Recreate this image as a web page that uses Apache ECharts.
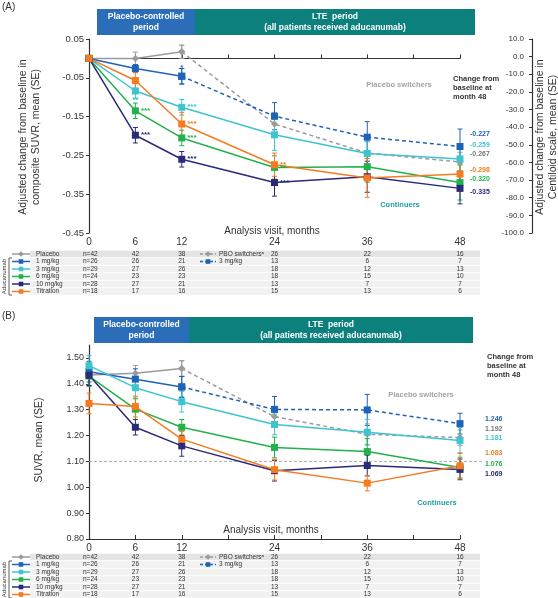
<!DOCTYPE html>
<html><head><meta charset="utf-8">
<script src="https://cdn.jsdelivr.net/npm/echarts@6/dist/echarts.min.js"></script>
<style>html,body{margin:0;padding:0;background:#fff}#c{width:558px;height:598px}</style>
</head><body><div id="c"></div>
<script>
// ---------- data ----------
const months = [0, 6, 12, 24, 36, 48];
const monthsPC = [0, 6, 12];
const monthsLTE = [12, 24, 36, 48];
const yTicksA = [-0.45, -0.35, -0.25, -0.15, -0.05, 0.05];
const yTicksB = [0.8, 0.9, 1.0, 1.1, 1.2, 1.3, 1.4, 1.5];
const refLineB = 1.10;

// Panel A: adjusted change in composite SUVR
const aPlacebo = [0, 0, 0.017];
const aPlaceboSE = [0, 0.016, 0.017];
const aPBO = [0.017, -0.169, -0.244, -0.267];
const aPBOSE = [0.017, 0.03, 0.03, 0.025];
const a1mg = [0, -0.026, -0.046];
const a1mgSE = [0, 0.01, 0.02];
const a1to3mg = [-0.046, -0.149, -0.203, -0.227];
const a1to3mgSE = [0.02, 0.035, 0.04, 0.045];
const a3mg = [0, -0.084, -0.126, -0.197, -0.245, -0.259];
const a3mgSE = [0, 0.02, 0.02, 0.04, 0.03, 0.03];
const a6mg = [0, -0.135, -0.205, -0.281, -0.279, -0.320];
const a6mgSE = [0, 0.02, 0.02, 0.03, 0.04, 0.045];
const a10mg = [0, -0.198, -0.260, -0.320, -0.305, -0.335];
const a10mgSE = [0, 0.02, 0.02, 0.035, 0.04, 0.04];
const aTitr = [0, -0.057, -0.169, -0.274, -0.308, -0.298];
const aTitrSE = [0, 0.02, 0.03, 0.03, 0.05, 0.04];
const starsA1mg = ['', '', '*'];
const starsA3mg = ['', '**', '***', '', '', ''];
const starsA6mg = ['', '***', '***', '**', '', ''];
const starsA10mg = ['', '***', '***', '***', '', ''];
const starsATitr = ['', '', '***', '**', '', ''];
const endLabelsA = ['-0.227', '-0.259', '-0.267', '-0.298', '-0.320', '-0.335'];

// Panel B: SUVR
const bPlacebo = [1.434, 1.441, 1.459];
const bPlaceboSE = [0.04, 0.03, 0.03];
const bPBO = [1.459, 1.273, 1.205, 1.192];
const bPBOSE = [0.03, 0.04, 0.04, 0.03];
const b1mg = [1.447, 1.418, 1.388];
const b1mgSE = [0.04, 0.04, 0.04];
const b1to3mg = [1.388, 1.301, 1.299, 1.246];
const b1to3mgSE = [0.04, 0.05, 0.06, 0.04];
const b3mg = [1.470, 1.385, 1.331, 1.243, 1.213, 1.181];
const b3mgSE = [0.04, 0.04, 0.04, 0.04, 0.05, 0.05];
const b6mg = [1.430, 1.302, 1.232, 1.154, 1.138, 1.076];
const b6mgSE = [0.04, 0.04, 0.03, 0.04, 0.05, 0.04];
const b10mg = [1.433, 1.232, 1.160, 1.064, 1.084, 1.069];
const b10mgSE = [0.04, 0.03, 0.04, 0.04, 0.04, 0.04];
const bTitr = [1.324, 1.312, 1.186, 1.068, 1.016, 1.083];
const bTitrSE = [0.04, 0.04, 0.03, 0.04, 0.03, 0.05];
const endLabelsB = ['1.246', '1.192', '1.181', '1.083', '1.076', '1.069'];

// table
const tableLabels = ['Placebo', '1 mg/kg', '3 mg/kg', '6 mg/kg', '10 mg/kg', 'Titration'];
const tableN = ['n=42', 'n=26', 'n=29', 'n=24', 'n=28', 'n=18'];
const tableMonths = [6, 12, 24, 36, 48];
const tableCounts = [
  [42, 38, 26, 22, 16],
  [26, 21, 13, 6, 7],
  [27, 26, 18, 12, 13],
  [23, 23, 18, 15, 10],
  [27, 21, 13, 7, 7],
  [17, 16, 15, 13, 6]
];

// ---------- style ----------
const FONT = '"Liberation Sans", Arial, sans-serif';
const C = {gray:'#9b9b9b', blue:'#1f63b9', cyan:'#3ec4ce', green:'#22b14c', navy:'#2b2a78', orange:'#f47b20',
  hdrBlue:'#2b6db8', hdrTeal:'#0b807c', teal:'#1f9e9e', axis:'#333'};
const rowColors = [C.gray, C.blue, C.cyan, C.green, C.navy, C.orange];
const endColorsA = [C.blue, C.cyan, '#777', C.orange, C.green, C.navy];
const endColorsB = [C.blue, '#777', C.cyan, C.orange, C.green, C.navy];

function pts(xs, ys, stars, starPos) {
  return xs.map((x, i) => {
    const s = stars && stars[i];
    if (!s) return [x, ys[i]];
    const lab = {show: true, formatter: s};
    if (starPos && starPos[i]) { lab.position = starPos[i]; lab.distance = 1; }
    return {value: [x, ys[i]], label: lab};
  });
}
function line(xi, yi, xs, ys, color, o = {}) {
  return {
    type: 'line', xAxisIndex: xi, yAxisIndex: yi, z: 3,
    data: pts(xs, ys, o.stars, o.starPos),
    symbol: o.symbol || 'rect', symbolSize: o.size || 7, showSymbol: true,
    lineStyle: {color, width: 1.5, type: o.dashed ? [4, 3] : 'solid'},
    itemStyle: {color},
    label: {show: false, position: 'right', distance: 2, color, fontSize: 8, fontWeight: 'bold', fontFamily: FONT},
    animation: false
  };
}
function err(xi, yi, xs, ys, se, color) {
  return {
    type: 'custom', xAxisIndex: xi, yAxisIndex: yi, z: 2, silent: true, animation: false,
    encode: {x: 0, y: [1, 2]},
    data: xs.map((x, i) => [x, ys[i] - se[i], ys[i] + se[i]]),
    renderItem: (params, api) => {
      const x = api.value(0);
      const p1 = api.coord([x, api.value(1)]), p2 = api.coord([x, api.value(2)]);
      const w = 2.5, st = {stroke: color, lineWidth: 1};
      return {type: 'group', children: [
        {type: 'line', shape: {x1: p1[0], y1: p1[1], x2: p2[0], y2: p2[1]}, style: st},
        {type: 'line', shape: {x1: p1[0] - w, y1: p1[1], x2: p1[0] + w, y2: p1[1]}, style: st},
        {type: 'line', shape: {x1: p2[0] - w, y1: p2[1], x2: p2[0] + w, y2: p2[1]}, style: st}
      ]};
    }
  };
}
function panel(xi, yi, d, starsOn) {
  return [
    err(xi, yi, monthsPC, d.pl, d.plSE, C.gray),
    err(xi, yi, monthsLTE, d.pbo, d.pboSE, C.gray),
    err(xi, yi, monthsPC, d.m1, d.m1SE, C.blue),
    err(xi, yi, monthsLTE, d.m13, d.m13SE, C.blue),
    err(xi, yi, months, d.m3, d.m3SE, C.cyan),
    err(xi, yi, months, d.m6, d.m6SE, C.green),
    err(xi, yi, months, d.m10, d.m10SE, C.navy),
    err(xi, yi, months, d.t, d.tSE, C.orange),
    line(xi, yi, monthsPC, d.pl, C.gray, {symbol: 'diamond', size: 7}),
    line(xi, yi, monthsLTE, d.pbo, C.gray, {symbol: 'diamond', size: 7, dashed: true}),
    line(xi, yi, monthsPC, d.m1, C.blue, {stars: starsOn && starsA1mg, starPos: ['', '', 'top']}),
    line(xi, yi, monthsLTE, d.m13, C.blue, {dashed: true}),
    line(xi, yi, months, d.m3, C.cyan, {stars: starsOn && starsA3mg, starPos: ['', 'bottom', '', '', '', '']}),
    line(xi, yi, months, d.m6, C.green, {stars: starsOn && starsA6mg}),
    line(xi, yi, months, d.m10, C.navy, {stars: starsOn && starsA10mg}),
    line(xi, yi, months, d.t, C.orange, {stars: starsOn && starsATitr})
  ];
}
const dA = {pl: aPlacebo, plSE: aPlaceboSE, pbo: aPBO, pboSE: aPBOSE, m1: a1mg, m1SE: a1mgSE, m13: a1to3mg, m13SE: a1to3mgSE,
  m3: a3mg, m3SE: a3mgSE, m6: a6mg, m6SE: a6mgSE, m10: a10mg, m10SE: a10mgSE, t: aTitr, tSE: aTitrSE};
const dB = {pl: bPlacebo, plSE: bPlaceboSE, pbo: bPBO, pboSE: bPBOSE, m1: b1mg, m1SE: b1mgSE, m13: b1to3mg, m13SE: b1to3mgSE,
  m3: b3mg, m3SE: b3mgSE, m6: b6mg, m6SE: b6mgSE, m10: b10mg, m10SE: b10mgSE, t: bTitr, tSE: bTitrSE};

const axLine = {color: C.axis, width: 1.2};
const lbl = (size) => ({color: '#333', fontSize: size, fontFamily: FONT});

const option = {
  animation: false,
  grid: [
    {left: 89, top: 39, width: 371, height: 194},
    {left: 89, top: 345, width: 371, height: 194}
  ],
  xAxis: [
    {gridIndex: 0, type: 'value', min: 0, max: 48, interval: 6, position: 'bottom',
      axisLine: {show: true, onZero: true, onZeroAxisIndex: 0, lineStyle: axLine},
      axisTick: {show: true, inside: true, length: 4, lineStyle: {color: C.axis}},
      axisLabel: {show: false}, splitLine: {show: false}},
    {gridIndex: 0, type: 'value', min: 0, max: 48, interval: 6, position: 'bottom',
      axisLine: {show: false, onZero: false}, axisTick: {show: false},
      axisLabel: Object.assign({customValues: months, margin: 4}, lbl(10)), splitLine: {show: false}},
    {gridIndex: 1, type: 'value', min: 0, max: 48, interval: 6, position: 'bottom',
      axisLine: {show: true, onZero: false, lineStyle: axLine},
      axisTick: {show: true, inside: true, length: 4, lineStyle: {color: C.axis}},
      axisLabel: Object.assign({customValues: months, margin: 4}, lbl(10)), splitLine: {show: false}}
  ],
  yAxis: [
    {gridIndex: 0, type: 'value', min: -0.45, max: 0.05, position: 'left',
      axisLine: {show: true, onZero: false, lineStyle: axLine},
      axisTick: {show: true, length: 3, customValues: yTicksA, lineStyle: {color: C.axis}},
      axisLabel: Object.assign({customValues: yTicksA, formatter: v => v.toFixed(2), margin: 5}, lbl(9.5)),
      splitLine: {show: false}},
    {gridIndex: 0, type: 'value', min: -100, max: 10, interval: 10, position: 'right', offset: 72,
      axisLine: {show: true, onZero: false, lineStyle: axLine},
      axisTick: {show: true, inside: true, length: 3, lineStyle: {color: C.axis}},
      axisLabel: Object.assign({inside: true, formatter: v => v.toFixed(1), margin: 8}, lbl(8)),
      splitLine: {show: false}},
    {gridIndex: 1, type: 'value', min: 0.8, max: 1.55, position: 'left',
      axisLine: {show: true, onZero: false, lineStyle: axLine},
      axisTick: {show: true, length: 3, customValues: yTicksB, lineStyle: {color: C.axis}},
      axisLabel: Object.assign({customValues: yTicksB, formatter: v => v.toFixed(2), margin: 5}, lbl(9)),
      splitLine: {show: false}}
  ],
  series: [].concat(panel(0, 0, dA, true), panel(2, 2, dB, false))
};

const chart = echarts.init(document.getElementById('c'));
chart.setOption(option);

// ---------- annotations ----------
function T(text, x, y, o = {}) {
  const al = o.align || 'left';
  return {type: 'text', x, y, rotation: o.rot || 0, silent: true, z: 100,
    style: {text, fill: o.color || '#333', font: (o.bold ? 'bold ' : '') + (o.size || 8) + 'px ' + FONT,
      align: al, textAlign: al, verticalAlign: 'middle', textVerticalAlign: 'middle', lineHeight: o.lh || undefined}};
}
function L(x1, y1, x2, y2, color, w, dash) {
  return {type: 'line', silent: true, z: 100, shape: {x1, y1, x2, y2}, style: {stroke: color, lineWidth: w || 1, lineDash: dash || null}};
}
function R(x, y, w, h, fill, z) {
  return {type: 'rect', silent: true, z: z || 90, shape: {x, y, width: w, height: h}, style: {fill}};
}
function marker(kind, x, y, color, s) {
  if (kind === 'diamond') return {type: 'polygon', silent: true, z: 101, shape: {points: [[x, y - s], [x + s, y], [x, y + s], [x - s, y]]}, style: {fill: color}};
  return R(x - s, y - s, 2 * s, 2 * s, color, 101);
}
const px = m => chart.convertToPixel({xAxisIndex: 0}, m);
const pyB = v => chart.convertToPixel({yAxisIndex: 2}, v);

function header(x0, xm, x1, y0, y1) {
  const ym = (y0 + y1) / 2;
  return [
    R(x0, y0, xm - x0, y1 - y0, C.hdrBlue),
    R(xm, y0, x1 - xm, y1 - y0, C.hdrTeal),
    T('Placebo-controlled\nperiod', (x0 + xm) / 2, ym, {color: '#fff', bold: true, size: 8.5, align: 'center', lh: 11}),
    T('LTE  period\n(all patients received aducanumab)', (xm + x1) / 2, ym, {color: '#fff', bold: true, size: 8.5, align: 'center', lh: 11})
  ];
}
function table(y0) {
  const g = [], rh = 7.5;
  const ys = tableLabels.map((_, i) => y0 + i * rh);
  ys.forEach((y, i) => {
    g.push(R(30, y - rh / 2 + 0.5, 450, rh - 1, i === 0 ? '#e4e4e4' : '#f1f1f1', 80));
    const kind = i === 0 ? 'diamond' : 'rect';
    g.push(L(12, y, 30, y, rowColors[i], 1.5));
    g.push(marker(kind, 21, y, rowColors[i], i === 0 ? 2.8 : 2.3));
    g.push(T(tableLabels[i], 36, y, {size: 6.5}));
    g.push(T(tableN[i], 83, y, {size: 6.5}));
    tableCounts[i].forEach((n, j) => g.push(T(String(n), px(tableMonths[j]), y, {size: 6.5, align: 'center'})));
  });
  g.push(L(200, ys[0], 216, ys[0], C.gray, 1.5, [3, 2]));
  g.push(marker('diamond', 208, ys[0], C.gray, 2.8));
  g.push(T('PBO switchers\u1d43', 219, ys[0], {size: 6.5}));
  g.push(L(200, ys[1], 216, ys[1], C.blue, 1.5, [3, 2]));
  g.push(marker('rect', 208, ys[1], C.blue, 2.3));
  g.push(T('3 mg/kg', 219, ys[1], {size: 6.5}));
  // Aducanumab bracket
  const ya = ys[1] - 3.5, yb = ys[5] + 3.5;
  g.push(L(9, ya, 9, yb, '#333', 0.8));
  g.push(L(9, ya, 12, ya, '#333', 0.8));
  g.push(L(9, yb, 12, yb, '#333', 0.8));
  g.push(T('Aducanumab', 4, (ya + yb) / 2, {size: 6, rot: Math.PI / 2, align: 'center'}));
  return g;
}

const g = [];
g.push(T('(A)', 2, 7, {size: 10}));
g.push(T('(B)', 2, 316, {size: 10}));
g.push(...header(97, 195, 475, 9, 35));
g.push(...header(94, 189, 473, 317, 343));
// axis names
g.push(T('Adjusted change from baseline in\ncomposite SUVR, mean (SE)', 30, 137, {size: 10.5, rot: Math.PI / 2, align: 'center', lh: 13}));
g.push(T('Adjusted change from baseline in\nCentiloid scale, mean (SE)', 547, 137, {size: 10.5, rot: Math.PI / 2, align: 'center', lh: 13}));
g.push(T('SUVR, mean (SE)', 39, 440, {size: 10.5, rot: Math.PI / 2, align: 'center'}));
g.push(T('Analysis visit, months', 272, 231, {size: 10}));
g.push(T('Analysis visit, months', 271, 530, {size: 10}));
g[g.length - 2].style.align = g[g.length - 2].style.textAlign = 'center';
g[g.length - 1].style.align = g[g.length - 1].style.textAlign = 'center';
// panel A annotations
g.push(T('Change from\nbaseline at\nmonth 48', 453, 88, {size: 7.5, bold: true, lh: 9}));
g.push(T('Placebo switchers', 399, 85, {size: 7.5, bold: true, color: '#a3a3a3', align: 'center'}));
g.push(T('Continuers', 400, 205, {size: 7.5, bold: true, color: C.teal, align: 'center'}));
[134, 145.5, 154.5, 170.5, 179.5, 192].forEach((y, i) => g.push(T(endLabelsA[i], 470, y, {size: 7, bold: true, color: endColorsA[i]})));
// panel B annotations
g.push(T('Change from\nbaseline at\nmonth 48', 487, 366, {size: 7.5, bold: true, lh: 9}));
g.push(T('Placebo switchers', 421, 395, {size: 7.5, bold: true, color: '#a3a3a3', align: 'center'}));
g.push(T('Continuers', 437, 503, {size: 7.5, bold: true, color: C.teal, align: 'center'}));
[419, 429.5, 438.5, 453.5, 464, 474.5].forEach((y, i) => g.push(T(endLabelsB[i], 485, y, {size: 7, bold: true, color: endColorsB[i]})));
// reference line 1.10
const yRef = pyB(refLineB);
g.push({type: 'line', silent: true, z: 1, shape: {x1: px(0), y1: yRef, x2: 483, y2: yRef}, style: {stroke: '#aaa', lineWidth: 1, lineDash: [3, 2]}});
// tables
g.push(...table(254));
g.push(...table(557));

chart.setOption({graphic: {elements: g}});
</script>
</body></html>
